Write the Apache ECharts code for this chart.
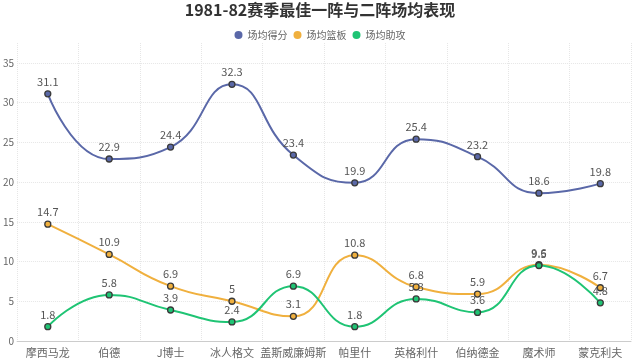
<!DOCTYPE html>
<html><head><meta charset="utf-8">
<script src="https://cdn.jsdelivr.net/npm/echarts@6/dist/echarts.min.js"></script>
<style>html,body{margin:0;padding:0;background:#fff}#c{width:640px;height:364px}</style>
</head><body><div id="c"></div>
<script>
const categories = ['摩西马龙','伯德','J博士','冰人格文','盖斯威廉姆斯','帕里什','英格利什','伯纳德金','魔术师','蒙克利夫'];
const points = [31.1, 22.9, 24.4, 32.3, 23.4, 19.9, 25.4, 23.2, 18.6, 19.8];
const rebounds = [14.7, 10.9, 6.9, 5, 3.1, 10.8, 6.8, 5.9, 9.6, 6.7];
const assists = [1.8, 5.8, 3.9, 2.4, 6.9, 1.8, 5.3, 3.6, 9.5, 4.8];
const seriesNames = ['场均得分','场均篮板','场均助攻'];
const colors = ['#5a68a8','#f0b03e','#1fc474'];
const font = "'Noto Sans CJK SC', 'Noto Sans', sans-serif";

const chart = echarts.init(document.getElementById('c'));
function mk(name, data, color){
  return {
    name, type:'line', data, smooth:true,
    symbol:'circle', symbolSize:6,
    lineStyle:{color, width:2},
    itemStyle:{color, borderColor:'#3a3a3a', borderWidth:1.3},
    label:{show:true, position:'top', distance:3, color:'#555', fontSize:11, fontFamily:font}
  };
}
chart.setOption({
  animation:false,
  textStyle:{fontFamily:font},
  title:{text:'1981-82赛季最佳一阵与二阵场均表现', left:'center', top:0, padding:[2,5],
    textStyle:{fontSize:16, fontWeight:'bold', color:'#333', fontFamily:font}},
  legend:{top:25, left:'center', icon:'circle', itemWidth:8, itemHeight:8, itemGap:6,
    textStyle:{fontSize:10, color:'#666', fontFamily:font},
    data: seriesNames.map((n,i)=>({name:n, itemStyle:{color:colors[i], borderWidth:0}}))},
  grid:{left:17, right:9, top:43, bottom:23},
  xAxis:{type:'category', data:categories, boundaryGap:true,
    axisLine:{lineStyle:{color:'#ccc'}}, axisTick:{show:false},
    axisLabel:{color:'#666', fontSize:11, margin:6, interval:0, fontFamily:font},
    splitLine:{show:true, lineStyle:{color:'#e6e6e6', type:'dotted'}}},
  yAxis:{type:'value', min:0, max:37.5, interval:5,
    axisLine:{show:false}, axisTick:{show:false},
    axisLabel:{color:'#666', fontSize:10, margin:3, showMaxLabel:false, fontFamily:font},
    splitLine:{show:true, showMaxLine:false, lineStyle:{color:'#e6e6e6', type:'dotted'}}},
  series:[mk(seriesNames[0], points, colors[0]), mk(seriesNames[1], rebounds, colors[1]), mk(seriesNames[2], assists, colors[2])]
});
</script></body></html>
